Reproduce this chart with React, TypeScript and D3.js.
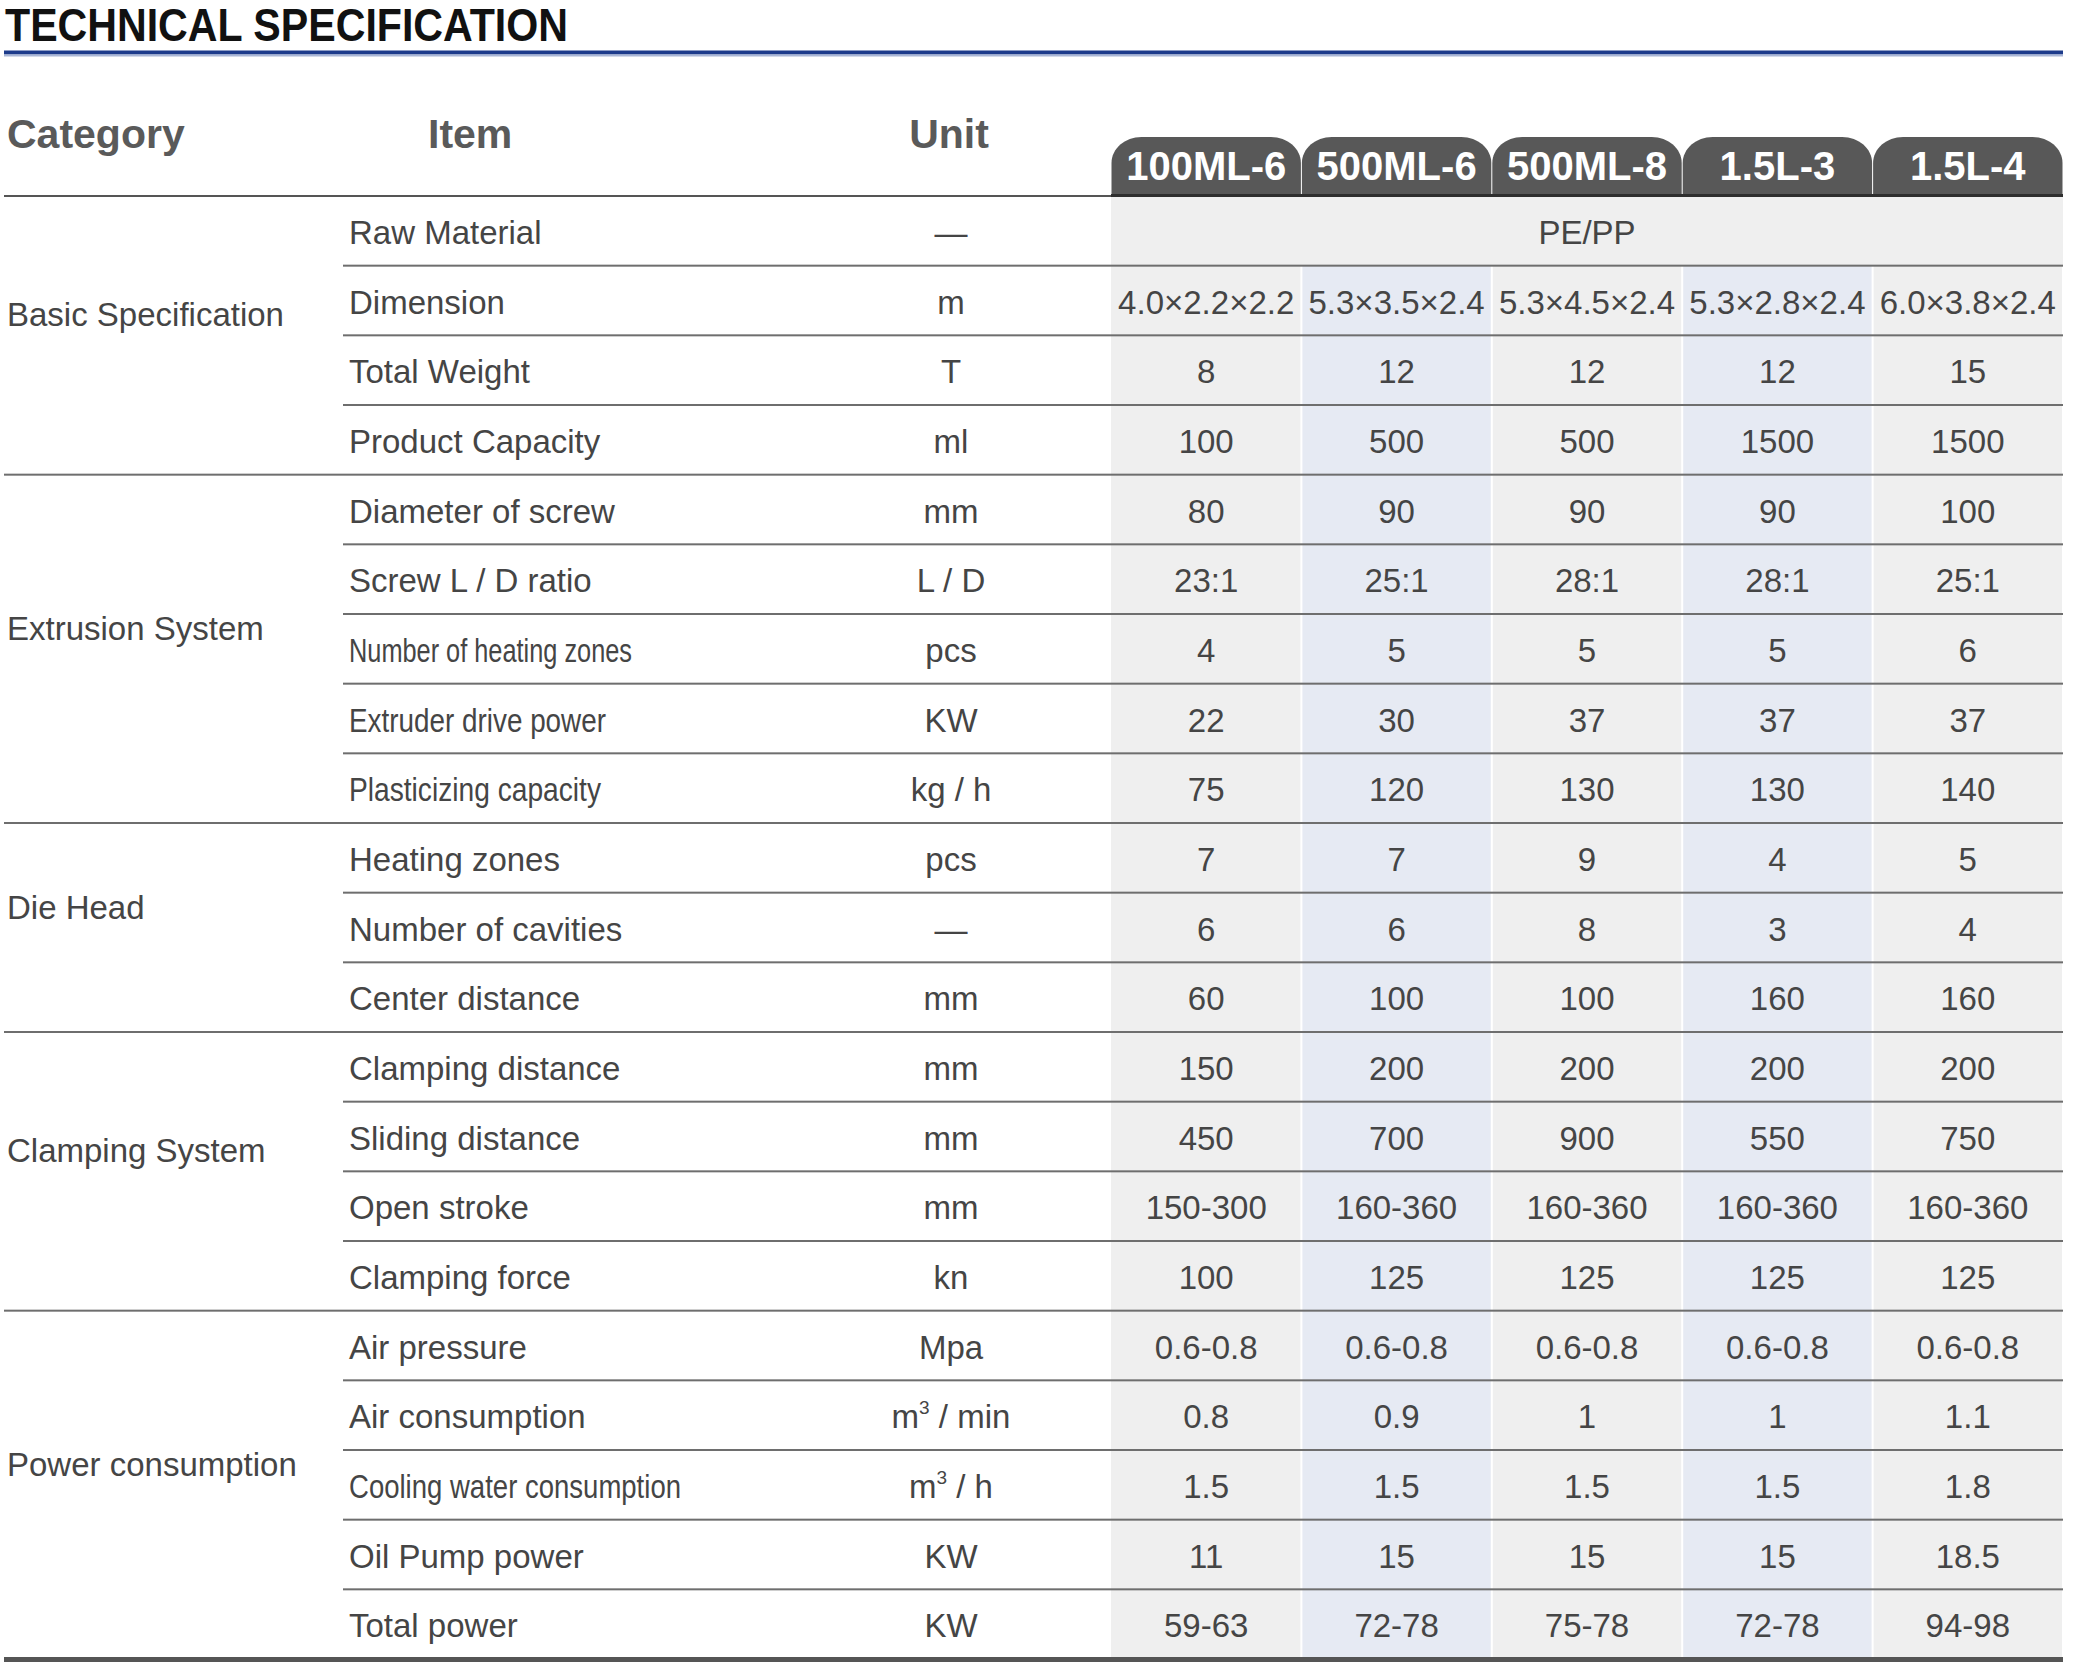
import React from "react";
import * as d3 from "d3";

// ---------- DATA ----------
const title = "TECHNICAL SPECIFICATION";
const headerLabels = ["Category", "Item", "Unit"];
const models = ["100ML-6", "500ML-6", "500ML-8", "1.5L-3", "1.5L-4"];

const categories = [
  "Basic Specification",
  "Extrusion System",
  "Die Head",
  "Clamping System",
  "Power consumption",
];
const categoryRowCounts = [4, 5, 3, 4, 5];

const items = [
  "Raw Material",
  "Dimension",
  "Total Weight",
  "Product Capacity",
  "Diameter of screw",
  "Screw L / D ratio",
  "Number of heating zones",
  "Extruder drive power",
  "Plasticizing capacity",
  "Heating zones",
  "Number of cavities",
  "Center distance",
  "Clamping distance",
  "Sliding distance",
  "Open stroke",
  "Clamping force",
  "Air pressure",
  "Air consumption",
  "Cooling water consumption",
  "Oil Pump power",
  "Total power",
];

const units = [
  "—", "m", "T", "ml",
  "mm", "L / D", "pcs", "KW", "kg / h",
  "pcs", "—", "mm",
  "mm", "mm", "mm", "kn",
  "Mpa", "m^3 / min", "m^3 / h", "KW", "KW",
];

// one array per item row, one entry per model (a single entry spans all models)
const specValues: string[][] = [
  ["PE/PP"],
  ["4.0×2.2×2.2", "5.3×3.5×2.4", "5.3×4.5×2.4", "5.3×2.8×2.4", "6.0×3.8×2.4"],
  ["8", "12", "12", "12", "15"],
  ["100", "500", "500", "1500", "1500"],
  ["80", "90", "90", "90", "100"],
  ["23:1", "25:1", "28:1", "28:1", "25:1"],
  ["4", "5", "5", "5", "6"],
  ["22", "30", "37", "37", "37"],
  ["75", "120", "130", "130", "140"],
  ["7", "7", "9", "4", "5"],
  ["6", "6", "8", "3", "4"],
  ["60", "100", "100", "160", "160"],
  ["150", "200", "200", "200", "200"],
  ["450", "700", "900", "550", "750"],
  ["150-300", "160-360", "160-360", "160-360", "160-360"],
  ["100", "125", "125", "125", "125"],
  ["0.6-0.8", "0.6-0.8", "0.6-0.8", "0.6-0.8", "0.6-0.8"],
  ["0.8", "0.9", "1", "1", "1.1"],
  ["1.5", "1.5", "1.5", "1.5", "1.8"],
  ["11", "15", "15", "15", "18.5"],
  ["59-63", "72-78", "75-78", "72-78", "94-98"],
];

// ---------- STYLE ----------
const W = 2076;
const H = 1666;
const FONT = "'Liberation Sans', Arial, Helvetica, sans-serif";
const TEXT = "#454545";
const HEAD = "#5a5a5a";
const TAB = "#585858";
const GRAY_FILL = "#efefef";
const BLUE_FILL = "#e6eaf3";
const LINE = "#6e6e6e";
const condensedWidth: Record<string, number> = {
  "Number of heating zones": 283,
  "Extruder drive power": 257,
  "Plasticizing capacity": 252,
  "Cooling water consumption": 332,
};

const LEFT = 4;
const RIGHT = 2063;
const DATA_X0 = 1111;
const ITEM_X = 349;
const INNER_LINE_X = 343;
const UNIT_X = 951;
const TABLE_TOP = 196;
const TABLE_BOTTOM = 1659;
const TAB_TOP = 137;

function UnitText({ u, x, y }: { u: string; x: number; y: number }) {
  if (u.includes("^")) {
    const [base, rest] = u.split("^");
    const sup = rest.charAt(0);
    const tail = rest.slice(1);
    return (
      <text x={x} y={y} textAnchor="middle" fontFamily={FONT} fontSize={33} fill={TEXT}>
        <tspan>{base}</tspan>
        <tspan dy={-14} fontSize={19}>{sup}</tspan>
        <tspan dy={14}>{tail}</tspan>
      </text>
    );
  }
  return (
    <text x={x} y={y} textAnchor="middle" fontFamily={FONT} fontSize={33} fill={TEXT}>
      {u}
    </text>
  );
}

export default function App() {
  const xCol = d3.scaleBand<string>().domain(models).range([DATA_X0, RIGHT]).paddingInner(0);
  const rowIdx = d3.range(items.length).map(String);
  const yRow = d3.scaleBand<string>().domain(rowIdx).range([TABLE_TOP, TABLE_BOTTOM]);
  const rh = yRow.bandwidth();
  const cw = xCol.bandwidth();

  const starts = d3.cumsum([0, ...categoryRowCounts]).slice(0, categories.length);
  const sectionStartRows = new Set(Array.from(starts));

  const rx = 30;
  const ry = 26;
  const k = 0.5523;
  const tabPath = (x0: number, x1: number, top: number, bottom: number) => {
    const p = d3.path();
    p.moveTo(x0, bottom);
    p.lineTo(x0, top + ry);
    p.bezierCurveTo(x0, top + ry * (1 - k), x0 + rx * (1 - k), top, x0 + rx, top);
    p.lineTo(x1 - rx, top);
    p.bezierCurveTo(x1 - rx * (1 - k), top, x1, top + ry * (1 - k), x1, top + ry);
    p.lineTo(x1, bottom);
    p.closePath();
    return p.toString();
  };

  return (
    <svg
      width={W}
      height={H}
      viewBox={`0 0 ${W} ${H}`}
      style={{ position: "absolute", left: 0, top: 0, background: "#fff" }}
    >
      <rect x={0} y={0} width={W} height={H} fill="#fff" />
      {/* Title */}
      <text
        x={5}
        y={41}
        fontFamily={FONT}
        fontWeight="bold"
        fontSize={46}
        fill="#111"
        textLength={563}
        lengthAdjust="spacingAndGlyphs"
      >
        {title}
      </text>
      <rect x={LEFT} y={50.5} width={RIGHT - LEFT} height={4} fill="#1d3b8b" />
      <rect x={LEFT} y={54.5} width={RIGHT - LEFT} height={2} fill="#a9b6d6" />

      {/* Header labels */}
      <text x={7} y={148} fontFamily={FONT} fontWeight="bold" fontSize={41} fill={HEAD}>
        {headerLabels[0]}
      </text>
      <text x={428} y={148} fontFamily={FONT} fontWeight="bold" fontSize={41} fill={HEAD}>
        {headerLabels[1]}
      </text>
      <text x={949} y={148} textAnchor="middle" fontFamily={FONT} fontWeight="bold" fontSize={41} fill={HEAD}>
        {headerLabels[2]}
      </text>

      {/* Column backgrounds */}
      {models.map((m, i) => (
        <rect
          key={m}
          x={(xCol(m) as number) + (i === 0 ? 0 : 1)}
          y={TABLE_TOP}
          width={cw - (i === 0 ? 1 : 2)}
          height={TABLE_BOTTOM - TABLE_TOP}
          fill={i % 2 === 0 ? GRAY_FILL : BLUE_FILL}
        />
      ))}
      {specValues.map((vals, ri) =>
        vals.length === 1 ? (
          <rect
            key={"m" + ri}
            x={DATA_X0}
            y={yRow(String(ri)) as number}
            width={RIGHT - DATA_X0}
            height={rh}
            fill={GRAY_FILL}
          />
        ) : null
      )}

      {/* Tabs */}
      {models.map((m) => {
        const x0 = xCol(m) as number;
        return (
          <g key={"tab" + m}>
            <path d={tabPath(x0 + 0.5, x0 + cw - 0.5, TAB_TOP, TABLE_TOP)} fill={TAB} />
            <text
              x={x0 + cw / 2}
              y={180}
              textAnchor="middle"
              fontFamily={FONT}
              fontWeight="bold"
              fontSize={40}
              fill="#fff"
            >
              {m}
            </text>
          </g>
        );
      })}
      <rect x={DATA_X0} y={TABLE_TOP - 2} width={RIGHT - DATA_X0} height={3} fill="#2e2e2e" />
      <rect x={LEFT} y={TABLE_TOP - 1} width={DATA_X0 - LEFT} height={2} fill="#555" />

      {/* Row lines */}
      {rowIdx.slice(1).map((kk) => {
        const ri = +kk;
        const y = yRow(kk) as number;
        const x0 = sectionStartRows.has(ri) ? LEFT : INNER_LINE_X;
        return <rect key={"l" + kk} x={x0} y={y - 1} width={RIGHT - x0} height={2} fill={LINE} />;
      })}
      <rect x={LEFT} y={TABLE_BOTTOM - 2} width={RIGHT - LEFT} height={5} fill="#555" />

      {/* Category labels */}
      {categories.map((c, i) => {
        const y0 = yRow(String(starts[i])) as number;
        const y1 = y0 + categoryRowCounts[i] * rh;
        const cy = (y0 + y1) / 2;
        return (
          <text key={c} x={7} y={cy - 9} fontFamily={FONT} fontSize={33} fill={TEXT}>
            {c}
          </text>
        );
      })}

      {/* Items, units, values */}
      {items.map((it, ri) => {
        const y = (yRow(String(ri)) as number) + rh / 2 + 13;
        const cwid = condensedWidth[it];
        const vals = specValues[ri];
        return (
          <g key={"row" + ri}>
            <text
              x={ITEM_X}
              y={y}
              fontFamily={FONT}
              fontSize={33}
              fill={TEXT}
              {...(cwid ? { textLength: cwid, lengthAdjust: "spacingAndGlyphs" } : {})}
            >
              {it}
            </text>
            <UnitText u={units[ri]} x={UNIT_X} y={y} />
            {vals.length === 1 ? (
              <text x={(DATA_X0 + RIGHT) / 2} y={y} textAnchor="middle" fontFamily={FONT} fontSize={33} fill={TEXT}>
                {vals[0]}
              </text>
            ) : (
              vals.map((v, ci) => (
                <text
                  key={ci}
                  x={(xCol(models[ci]) as number) + cw / 2}
                  y={y}
                  textAnchor="middle"
                  fontFamily={FONT}
                  fontSize={33}
                  fill={TEXT}
                >
                  {v}
                </text>
              ))
            )}
          </g>
        );
      })}
    </svg>
  );
}
